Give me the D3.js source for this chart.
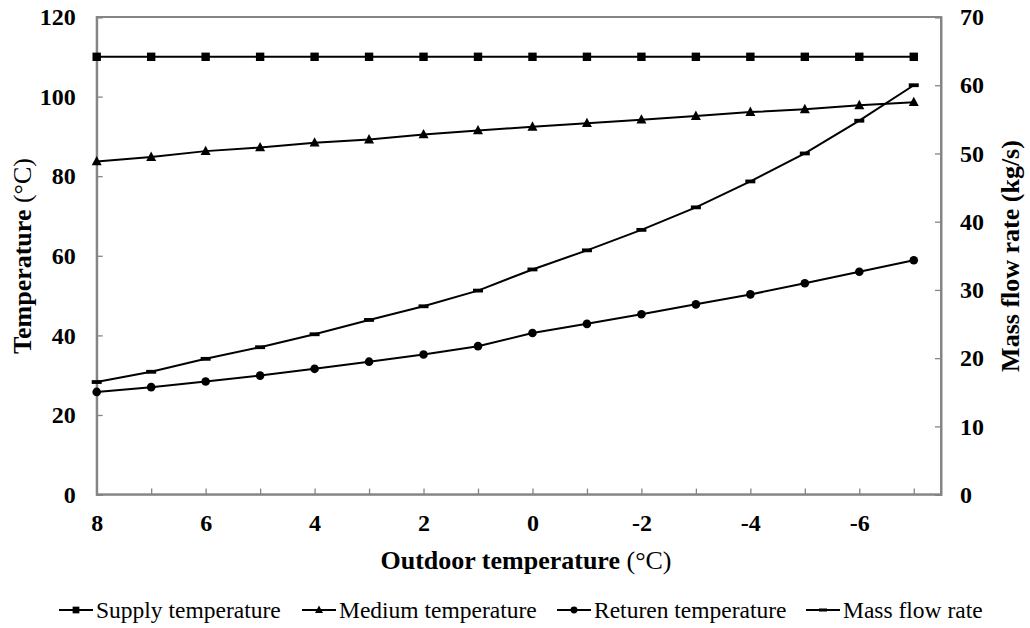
<!DOCTYPE html>
<html><head><meta charset="utf-8">
<script src="https://cdn.jsdelivr.net/npm/d3@7"></script>
<style>body{margin:0;background:#fff}svg{display:block}</style>
</head><body><svg id="c" width="1030" height="628"></svg>
<script>
const outdoor = [8,7,6,5,4,3,2,1,0,-1,-2,-3,-4,-5,-6,-7];
const supplyTemp = [110,110,110,110,110,110,110,110,110,110,110,110,110,110,110,110];
const mediumTemp = [83.7,84.8,86.3,87.2,88.4,89.2,90.5,91.5,92.4,93.3,94.2,95.1,96.1,96.8,97.8,98.6];
const returnTemp = [25.8,27.0,28.4,29.9,31.6,33.4,35.2,37.3,40.6,42.9,45.3,47.8,50.3,53.1,56.0,58.9];
const massFlow = [16.5,18.0,19.9,21.6,23.5,25.6,27.6,29.9,33.0,35.8,38.8,42.1,45.9,50.0,54.8,60.0];
const leftTicks = [0,20,40,60,80,100,120];
const rightTicks = [0,10,20,30,40,50,60,70];
const seriesNames = ["Supply temperature","Medium temperature","Returen temperature","Mass flow rate"];

const svg = d3.select("#c");
const L=96.7, R=941, T=17, B=494.6;
const font = "Liberation Serif";
const gray = "#858585";

const x = d3.scaleLinear().domain([0,15.5]).range([L,R]);
const yL = d3.scaleLinear().domain([0,120]).range([B,T]);
const yR = d3.scaleLinear().domain([0,70]).range([B,T]);

svg.append("rect").attr("x",L).attr("y",T).attr("width",R-L).attr("height",B-T)
  .attr("fill","none").attr("stroke",gray).attr("stroke-width",2);

function styleAxis(g){
  g.attr("font-family",null).attr("font-size",null);
  g.select(".domain").attr("stroke",gray).attr("stroke-width",2);
  g.selectAll(".tick line").attr("stroke",gray).attr("stroke-width",1.3);
  g.selectAll("text").style("font-family",font).style("font-weight","bold").style("font-size","24px").attr("fill","#000");
}
const gx = svg.append("g").attr("transform",`translate(0,${B})`)
  .call(d3.axisBottom(x).tickValues(d3.range(outdoor.length)).tickSize(-6).tickPadding(19)
    .tickFormat(i => outdoor[i]%2===0 ? String(outdoor[i]) : ""));
styleAxis(gx);
gx.select(".domain").attr("d",`M${L},0H${R}`);
const gl = svg.append("g").attr("transform",`translate(${L},0)`)
  .call(d3.axisLeft(yL).tickValues(leftTicks).tickSize(-6).tickPadding(21));
styleAxis(gl);
const gr = svg.append("g").attr("transform",`translate(${R},0)`)
  .call(d3.axisRight(yR).tickValues(rightTicks).tickSize(-6).tickPadding(19));
styleAxis(gr);

// axis titles
function title(sel){ return sel.style("font-family",font).style("font-size","26px").style("font-weight","bold").attr("text-anchor","middle"); }
const t1 = title(svg.append("text").attr("x",526).attr("y",569));
t1.append("tspan").text("Outdoor temperature ");
t1.append("tspan").style("font-weight","normal").text("(°C)");
const t2 = title(svg.append("text").attr("transform","translate(31,256) rotate(-90)"));
t2.append("tspan").text("Temperature ");
t2.append("tspan").style("font-weight","normal").text("(°C)");
title(svg.append("text").attr("transform","translate(1019,256) rotate(-90)"))
  .text("Mass flow rate (kg/s)");

const series = [
  {vals:supplyTemp, y:yL, m:"square"},
  {vals:mediumTemp, y:yL, m:"triangle"},
  {vals:returnTemp, y:yL, m:"circle"},
  {vals:massFlow, y:yR, m:"dash"}
];
function marker(g, type, cx, cy, s){
  s = s||1;
  if(type==="square") g.append("rect").attr("x",cx-4.2*s).attr("y",cy-4.2*s).attr("width",8.4*s).attr("height",8.4*s).attr("fill","#000");
  else if(type==="triangle") g.append("path").attr("d",`M${cx},${cy-5.5*s}L${cx+5*s},${cy+3.8*s}L${cx-5*s},${cy+3.8*s}Z`).attr("fill","#000");
  else if(type==="circle") g.append("circle").attr("cx",cx).attr("cy",cy).attr("r",4.3*s).attr("fill","#000");
  else g.append("rect").attr("x",cx-5*s).attr("y",cy-1.9*s).attr("width",10*s).attr("height",3.8*s).attr("fill","#000");
}
series.forEach(s=>{
  const line = d3.line().x((d,i)=>x(i)).y(d=>s.y(d));
  svg.append("path").datum(s.vals).attr("d",line).attr("fill","none").attr("stroke","#000").attr("stroke-width",2);
  const g = svg.append("g");
  s.vals.forEach((v,i)=>marker(g,s.m,x(i),s.y(v)));
});

// legend
const legX = [59,302,557,806];
const legY = 610;
seriesNames.forEach((n,k)=>{
  svg.append("line").attr("x1",legX[k]).attr("x2",legX[k]+34).attr("y1",legY).attr("y2",legY)
    .attr("stroke","#000").attr("stroke-width",2);
  const g = svg.append("g");
  marker(g, series[k].m, legX[k]+17, legY, 0.8);
  svg.append("text").attr("x",legX[k]+37).attr("y",legY+8).style("font-family",font)
    .style("font-size","23.5px").text(n);
});
</script></body></html>
